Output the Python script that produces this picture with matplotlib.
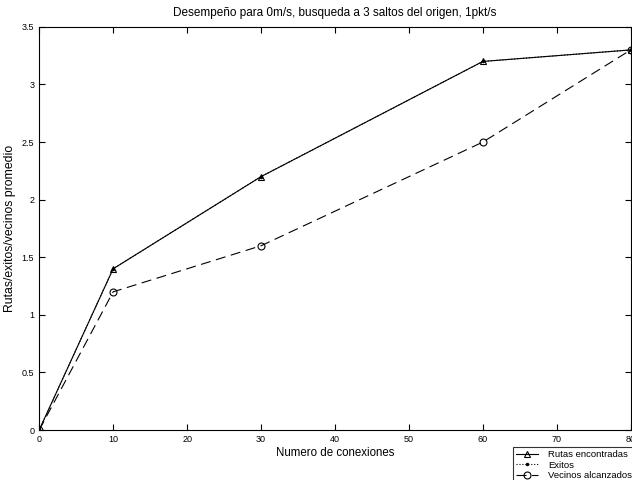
import matplotlib
matplotlib.use("Agg")
import matplotlib.pyplot as plt
from matplotlib.ticker import FormatStrFormatter

plt.rcParams['font.family'] = ['Liberation Sans', 'DejaVu Sans']

conexiones = [0, 10, 30, 60, 80]
rutas = [0, 1.4, 2.2, 3.2, 3.3]
exitos = [0, 1.4, 2.2, 3.2, 3.3]
vecinos = [0, 1.2, 1.6, 2.5, 3.3]

fig = plt.figure(figsize=(6.32, 4.8), dpi=100)
ax = fig.add_axes([0.062, 0.104, 0.936, 0.84])

ax.plot(conexiones, rutas, '-', color='black', lw=0.8, marker='^',
        mfc='none', ms=5, mew=0.8, label='Rutas encontradas')
ax.plot(conexiones, exitos, ':', color='black', lw=0.8, marker='.',
        ms=3, label='Exitos')
ax.plot(conexiones, vecinos, '--', color='black', lw=0.8, marker='o',
        mfc='none', ms=5, mew=0.8, dashes=(9, 5), label='Vecinos alcanzados')

ax.set_xlim(0, 80)
ax.set_ylim(0, 3.5)
ax.set_xticks([0, 10, 20, 30, 40, 50, 60, 70, 80])
ax.set_yticks([0, 0.5, 1, 1.5, 2, 2.5, 3, 3.5])
ax.yaxis.set_major_formatter(FormatStrFormatter('%g'))
ax.tick_params(direction='in', top=True, right=True, labelsize=6.5, length=4, width=0.8)
for s in ax.spines.values():
    s.set_linewidth(0.8)

ax.set_title('Desempeño para 0m/s, busqueda a 3 saltos del origen, 1pkt/s', fontsize=8.5, pad=8)
ax.set_xlabel('Numero de conexiones', fontsize=8.3, labelpad=2)
ax.set_ylabel('Rutas/exitos/vecinos promedio', fontsize=8.8)
ax.yaxis.set_label_coords(-0.039, 0.5)

leg = fig.legend(loc='upper left', bbox_to_anchor=(0.804, 0.078), fontsize=6.8,
                 frameon=True, fancybox=False, edgecolor='black', borderpad=0.3,
                 labelspacing=0.15, handlelength=2.4, handletextpad=1.0)
leg.get_frame().set_linewidth(0.8)

fig.savefig('out.png', dpi=100)
